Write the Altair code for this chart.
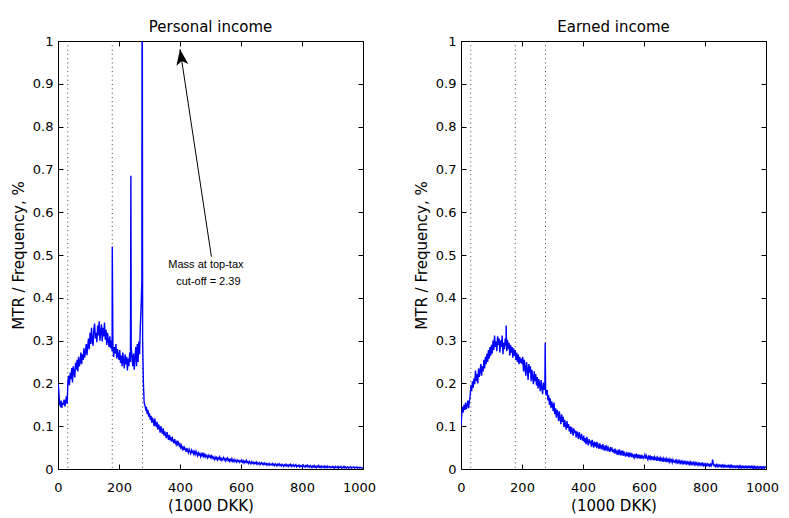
import altair as alt
import pandas as pd

# income bins (1000 DKK), 2.5k wide, and tick values
income = [i * 2.5 for i in range(401)]
x_ticks = [0, 200, 400, 600, 800, 1000]
y_ticks = [0, 0.1, 0.2, 0.3, 0.4, 0.5, 0.6, 0.7, 0.8, 0.9, 1.0]

# tax bracket thresholds (dotted lines)
cutoffs = [32, 178, 277]

personal_share = [
    # 0 - 97.5
    0.200, 0.185, 0.152, 0.148, 0.160, 0.143, 0.155, 0.150, 0.162, 0.146, 0.158, 0.170, 0.152, 0.205, 0.218, 0.196, 0.225, 0.210, 0.236, 0.202,
    0.240, 0.225, 0.214, 0.248, 0.232, 0.255, 0.228, 0.262, 0.240, 0.250, 0.272, 0.245, 0.268, 0.255, 0.282, 0.260, 0.275, 0.292, 0.266, 0.288,
    # 100 - 197.5
    0.305, 0.280, 0.318, 0.292, 0.330, 0.300, 0.288, 0.325, 0.340, 0.305, 0.318, 0.296, 0.335, 0.312, 0.345, 0.300, 0.322, 0.338, 0.298, 0.330,
    0.310, 0.342, 0.302, 0.325, 0.290, 0.318, 0.300, 0.285, 0.310, 0.282, 0.300, 0.275, 0.290, 0.262, 0.285, 0.270, 0.292, 0.258, 0.280, 0.265,
    # 200 - 297.5
    0.255, 0.278, 0.248, 0.265, 0.240, 0.272, 0.252, 0.235, 0.268, 0.245, 0.262, 0.230, 0.258, 0.240, 0.272, 0.250, 0.285, 0.262, 0.240, 0.270,
    0.232, 0.262, 0.285, 0.240, 0.292, 0.250, 0.298, 0.268, 0.335, 0.380, 0.440, 0.300, 0.200, 0.155, 0.148, 0.140, 0.145, 0.128, 0.138, 0.122,
    # 300 - 397.5
    0.130, 0.115, 0.124, 0.108, 0.120, 0.112, 0.100, 0.118, 0.105, 0.098, 0.110, 0.092, 0.104, 0.096, 0.085, 0.100, 0.090, 0.082, 0.095, 0.078,
    0.088, 0.080, 0.072, 0.086, 0.076, 0.068, 0.080, 0.070, 0.075, 0.064, 0.072, 0.066, 0.060, 0.070, 0.062, 0.057, 0.066, 0.058, 0.062, 0.054,
    # 400 - 497.5
    0.058, 0.050, 0.055, 0.047, 0.053, 0.044, 0.050, 0.046, 0.040, 0.049, 0.043, 0.038, 0.046, 0.041, 0.036, 0.044, 0.039, 0.042, 0.035, 0.040,
    0.034, 0.041, 0.036, 0.031, 0.038, 0.033, 0.036, 0.029, 0.035, 0.031, 0.038, 0.030, 0.034, 0.028, 0.033, 0.030, 0.026, 0.032, 0.028, 0.031,
    # 500 - 597.5
    0.027, 0.031, 0.025, 0.029, 0.026, 0.022, 0.028, 0.024, 0.027, 0.021, 0.026, 0.023, 0.028, 0.022, 0.025, 0.020, 0.024, 0.027, 0.021, 0.024,
    0.019, 0.023, 0.026, 0.020, 0.023, 0.018, 0.022, 0.019, 0.024, 0.018, 0.021, 0.017, 0.022, 0.019, 0.016, 0.021, 0.018, 0.020, 0.016, 0.019,
    # 600 - 697.5
    0.017, 0.021, 0.016, 0.019, 0.014, 0.018, 0.016, 0.020, 0.015, 0.017, 0.013, 0.018, 0.015, 0.012, 0.017, 0.014, 0.016, 0.012, 0.015, 0.013,
    0.016, 0.011, 0.014, 0.012, 0.015, 0.010, 0.013, 0.015, 0.011, 0.013, 0.010, 0.014, 0.011, 0.013, 0.009, 0.012, 0.010, 0.013, 0.009, 0.011,
    # 700 - 797.5
    0.010, 0.013, 0.009, 0.011, 0.008, 0.012, 0.010, 0.007, 0.011, 0.009, 0.012, 0.008, 0.010, 0.007, 0.011, 0.009, 0.006, 0.010, 0.008, 0.011,
    0.007, 0.009, 0.006, 0.010, 0.008, 0.011, 0.006, 0.009, 0.007, 0.010, 0.006, 0.008, 0.010, 0.005, 0.008, 0.007, 0.009, 0.005, 0.008, 0.006,
    # 800 - 897.5
    0.008, 0.005, 0.009, 0.006, 0.004, 0.008, 0.006, 0.009, 0.005, 0.007, 0.004, 0.008, 0.006, 0.003, 0.007, 0.005, 0.008, 0.004, 0.006, 0.003,
    0.007, 0.005, 0.008, 0.004, 0.006, 0.003, 0.007, 0.005, 0.004, 0.007, 0.003, 0.006, 0.004, 0.007, 0.003, 0.005, 0.006, 0.003, 0.005, 0.004,
    # 900 - 997.5
    0.006, 0.003, 0.005, 0.002, 0.006, 0.004, 0.003, 0.006, 0.002, 0.005, 0.004, 0.006, 0.002, 0.004, 0.003, 0.006, 0.003, 0.005, 0.002, 0.004,
    0.005, 0.002, 0.004, 0.003, 0.005, 0.002, 0.004, 0.003, 0.005, 0.002, 0.004, 0.003, 0.005, 0.002, 0.003, 0.004, 0.002, 0.004, 0.003, 0.002,
    # 1000
    0.003,
]
personal_spike_x = [178, 239, 276]
personal_spike_y = [0.52, 0.685, 1.4]

earned_share = [
    # 0 - 97.5
    0.100, 0.128, 0.145, 0.132, 0.150, 0.138, 0.155, 0.140, 0.148, 0.160, 0.142, 0.158, 0.170, 0.195, 0.182, 0.205, 0.190, 0.212, 0.198, 0.230,
    0.205, 0.222, 0.200, 0.235, 0.215, 0.228, 0.245, 0.218, 0.240, 0.228, 0.255, 0.235, 0.262, 0.245, 0.270, 0.250, 0.278, 0.258, 0.285, 0.265,
    # 100 - 197.5
    0.290, 0.270, 0.300, 0.278, 0.312, 0.285, 0.298, 0.275, 0.310, 0.290, 0.305, 0.272, 0.300, 0.285, 0.312, 0.268, 0.295, 0.280, 0.305, 0.288,
    0.275, 0.302, 0.280, 0.295, 0.265, 0.290, 0.272, 0.285, 0.260, 0.282, 0.265, 0.278, 0.255, 0.272, 0.250, 0.268, 0.245, 0.262, 0.248, 0.258,
    # 200 - 297.5
    0.245, 0.262, 0.228, 0.255, 0.235, 0.218, 0.250, 0.232, 0.208, 0.245, 0.225, 0.240, 0.205, 0.232, 0.215, 0.198, 0.228, 0.205, 0.222, 0.195,
    0.215, 0.188, 0.210, 0.198, 0.182, 0.208, 0.190, 0.175, 0.202, 0.185, 0.192, 0.178, 0.172, 0.185, 0.160, 0.172, 0.150, 0.165, 0.142, 0.158,
    # 300 - 397.5
    0.148, 0.135, 0.155, 0.128, 0.142, 0.120, 0.138, 0.130, 0.112, 0.135, 0.118, 0.105, 0.128, 0.110, 0.122, 0.098, 0.115, 0.104, 0.092, 0.112,
    0.096, 0.105, 0.088, 0.100, 0.082, 0.098, 0.090, 0.078, 0.095, 0.084, 0.090, 0.074, 0.088, 0.080, 0.070, 0.086, 0.076, 0.068, 0.082, 0.072,
    # 400 - 497.5
    0.066, 0.078, 0.062, 0.072, 0.058, 0.075, 0.064, 0.055, 0.070, 0.060, 0.066, 0.052, 0.068, 0.058, 0.050, 0.064, 0.056, 0.060, 0.049, 0.062,
    0.053, 0.047, 0.060, 0.051, 0.056, 0.045, 0.058, 0.049, 0.043, 0.055, 0.047, 0.052, 0.042, 0.050, 0.045, 0.040, 0.051, 0.044, 0.048, 0.041,
    # 500 - 597.5
    0.040, 0.047, 0.036, 0.044, 0.039, 0.033, 0.045, 0.037, 0.042, 0.032, 0.040, 0.035, 0.043, 0.031, 0.038, 0.034, 0.029, 0.040, 0.033, 0.036,
    0.028, 0.038, 0.031, 0.035, 0.027, 0.036, 0.030, 0.026, 0.035, 0.029, 0.033, 0.025, 0.034, 0.028, 0.031, 0.024, 0.033, 0.027, 0.030, 0.025,
    # 600 - 697.5
    0.028, 0.033, 0.024, 0.031, 0.026, 0.022, 0.032, 0.025, 0.029, 0.021, 0.030, 0.024, 0.027, 0.020, 0.028, 0.023, 0.026, 0.019, 0.027, 0.022,
    0.025, 0.018, 0.026, 0.021, 0.024, 0.017, 0.025, 0.020, 0.023, 0.016, 0.024, 0.019, 0.022, 0.016, 0.023, 0.018, 0.021, 0.015, 0.022, 0.017,
    # 700 - 797.5
    0.016, 0.020, 0.015, 0.020, 0.015, 0.019, 0.014, 0.019, 0.014, 0.018, 0.013, 0.018, 0.013, 0.017, 0.013, 0.017, 0.012, 0.016, 0.012, 0.016,
    0.011, 0.016, 0.011, 0.015, 0.011, 0.015, 0.010, 0.015, 0.010, 0.014, 0.010, 0.014, 0.009, 0.013, 0.009, 0.013, 0.009, 0.013, 0.008, 0.012,
    # 800 - 897.5
    0.008, 0.012, 0.008, 0.012, 0.008, 0.011, 0.007, 0.011, 0.007, 0.011, 0.022, 0.010, 0.007, 0.010, 0.006, 0.010, 0.006, 0.010, 0.006, 0.009,
    0.006, 0.009, 0.005, 0.009, 0.005, 0.009, 0.005, 0.008, 0.005, 0.008, 0.005, 0.008, 0.004, 0.008, 0.004, 0.008, 0.004, 0.007, 0.004, 0.007,
    # 900 - 997.5
    0.004, 0.007, 0.004, 0.007, 0.003, 0.007, 0.003, 0.007, 0.003, 0.006, 0.003, 0.006, 0.003, 0.006, 0.003, 0.006, 0.003, 0.006, 0.003, 0.006,
    0.003, 0.006, 0.002, 0.006, 0.002, 0.006, 0.002, 0.005, 0.002, 0.005, 0.002, 0.005, 0.002, 0.005, 0.002, 0.005, 0.002, 0.005, 0.002, 0.005,
    # 1000
    0.004,
]
earned_spike_x = [148, 276]
earned_spike_y = [0.335, 0.295]

assert len(personal_share) == len(income) and len(earned_share) == len(income)

# annotation on the personal income panel
note_lines = ["Mass at top-tax", "cut-off = 2.39"]
note_x = [485, 493]
note_y = [0.477, 0.437]
arrow_from = (503, 0.496)
arrow_to = (400, 0.981)

FONT = "DejaVu Sans"
xscale = alt.Scale(domain=[0, 1000], nice=False)
yscale = alt.Scale(domain=[0, 1], nice=False)


def make_panel(share, spike_x, spike_y, title, extra=None):
    df = pd.concat([
        pd.DataFrame({"income": income, "share": share}),
        pd.DataFrame({"income": spike_x, "share": spike_y}),
    ]).sort_values("income")

    base = alt.Chart(df)
    line = base.mark_line(color="#0000ff", strokeWidth=1.4, clip=True).encode(
        x=alt.X("income:Q", scale=xscale, axis=alt.Axis(
            values=x_ticks, format="d", orient="bottom", offset=-5, tickSize=5,
            domain=False, grid=False, labelPadding=12, labelFlush=False,
            # pull the last label in a little so the page does not overflow
            labelOffset={"condition": {"test": "datum.value == 1000", "value": -4}, "value": 0},
            title="(1000 DKK)", titlePadding=4)),
        y=alt.Y("share:Q", scale=yscale, axis=alt.Axis(
            values=y_ticks, format="~g", orient="left", offset=-5, tickSize=5,
            domain=False, grid=False, labelPadding=5, labelFlush=False,
            title="MTR / Frequency, %", titlePadding=6)),
    )
    # mirrored inward ticks on top / right
    box = base.mark_line(strokeOpacity=0, clip=True).encode(
        x=alt.X("income:Q", scale=xscale, axis=alt.Axis(
            values=x_ticks, orient="top", offset=-5, tickSize=5, labels=False,
            domain=False, grid=False, title=None)),
        y=alt.Y("share:Q", scale=yscale, axis=alt.Axis(
            values=y_ticks, orient="right", offset=-5, tickSize=5, labels=False,
            domain=False, grid=False, title=None)),
    )
    dots = alt.Chart(pd.DataFrame({"cut": cutoffs})).mark_rule(
        color="#444444", strokeDash=[1, 3.3], strokeWidth=1
    ).encode(x=alt.X("cut:Q", scale=xscale, axis=None))

    layers = [dots, line, box]
    if extra is not None:
        layers += extra
    return alt.layer(*layers).resolve_axis(x="independent", y="independent").properties(
        width=305, height=428,
        title=alt.TitleParams(title, font=FONT, fontSize=15, fontWeight="normal",
                              baseline="bottom", offset=-15, color="black"),
    )


arrow_df = pd.DataFrame({
    "x": [arrow_from[0]], "y": [arrow_from[1]],
    "x2": [arrow_to[0]], "y2": [arrow_to[1]],
})
arrow = alt.Chart(arrow_df).mark_rule(color="black", strokeWidth=1).encode(
    x=alt.X("x:Q", scale=xscale, axis=None),
    y=alt.Y("y:Q", scale=yscale, axis=None),
    x2="x2:Q", y2="y2:Q",
)
head = alt.Chart(arrow_df).mark_point(
    shape="M0,0 L0.75,2 L0,1.5 L-0.75,2 Z", size=256, filled=True,
    color="black", opacity=1, angle=351.5,
).encode(
    x=alt.X("x2:Q", scale=xscale, axis=None),
    y=alt.Y("y2:Q", scale=yscale, axis=None),
)
note = alt.Chart(pd.DataFrame({"x": note_x, "y": note_y, "t": note_lines})).mark_text(
    font="Liberation Sans", fontSize=11, align="center", baseline="middle", color="black"
).encode(
    x=alt.X("x:Q", scale=xscale, axis=None),
    y=alt.Y("y:Q", scale=yscale, axis=None),
    text="t:N",
)

left = make_panel(personal_share, personal_spike_x, personal_spike_y,
                  "Personal income", extra=[arrow, head, note])
right = make_panel(earned_share, earned_spike_x, earned_spike_y, "Earned income")

chart = alt.hconcat(left, right, spacing=98, bounds="flush").properties(
    padding={"left": 2, "top": 11, "right": 0, "bottom": 2},
).configure_view(
    stroke="black", strokeWidth=1
).configure_axis(
    labelFont=FONT, labelFontSize=13, labelColor="black",
    titleFont=FONT, titleFontSize=15, titleFontWeight="normal", titleColor="black",
    tickColor="black", tickWidth=1,
)

chart.save("out.html", embed_options={"renderer": "svg", "actions": False})
